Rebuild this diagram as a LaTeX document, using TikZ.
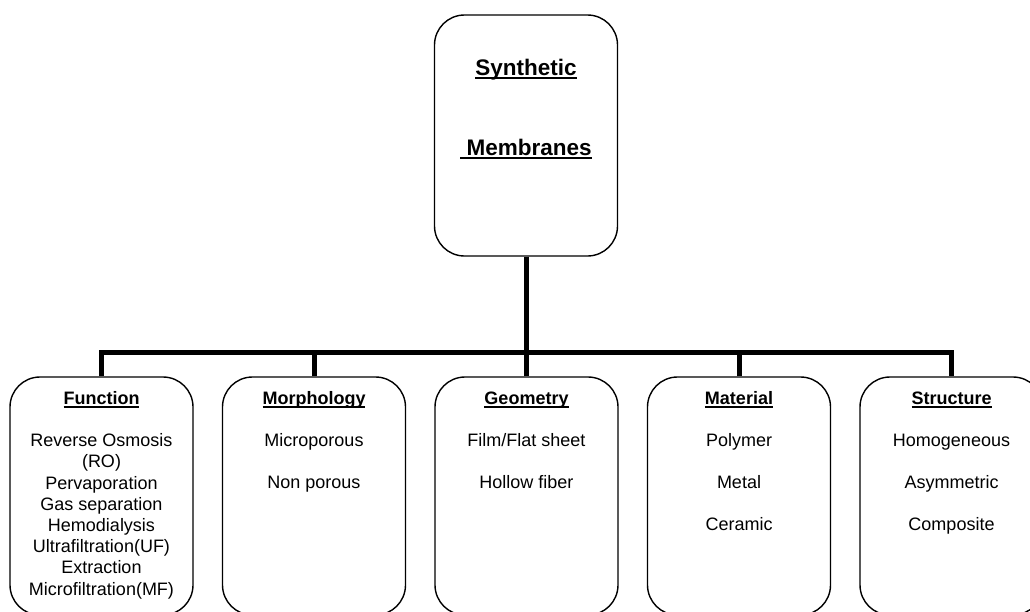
\documentclass[tikz,border=0pt]{standalone}
\usepackage{fontspec}
\setmainfont{Liberation Sans}
\newsavebox\ulsave
\newcommand\ulbox[1]{\sbox\ulsave{#1}\rlap{\rule[-0.18em]{\wd\ulsave}{0.08em}}\usebox\ulsave}
\begin{document}
\begin{tikzpicture}[x=1pt,y=-1pt,
  box/.style={draw, line width=1.4pt, rounded corners=30pt, minimum width=183pt, inner sep=0pt},
  conn/.style={line width=5pt},
  title/.style={font=\fontsize{22.5}{26}\selectfont\bfseries, inner sep=0pt},
  head/.style={font=\fontsize{18}{21}\selectfont\bfseries, inner sep=0pt, anchor=base},
  body/.style={font=\fontsize{18}{21.2}\selectfont, inner sep=0pt, anchor=north, align=center},
  bodywide/.style={font=\fontsize{18}{42}\selectfont, inner sep=0pt, anchor=north, align=center}]
\clip (0,0) rectangle (1030,611);
\fill[white] (0,0) rectangle (1030,611);
% root
\node[box, minimum height=241pt] (top) at (526,135.5) {};
\node[title, anchor=base] (t1) at (526,75) {\ulbox{Synthetic}};
\node[title, anchor=base] (t2) at (526,155) {\ulbox{\ Membranes}};
% children
\foreach \i/\x in {1/101.5,2/314,3/526.5,4/739,5/951.5}
  \node[box, minimum height=238pt] (b\i) at (\x,496) {};
\node[head] (h1) at (b1 |- 0,404.5) {\ulbox{Function}};
\node[head] (h2) at (b2 |- 0,404.5) {\ulbox{Morphology}};
\node[head] (h3) at (b3 |- 0,404.5) {\ulbox{Geometry}};
\node[head] (h4) at (b4 |- 0,404.5) {\ulbox{Material}};
\node[head] (h5) at (b5 |- 0,404.5) {\ulbox{Structure}};
\node[body] (l1) at (b1 |- 0,433.5) {Reverse Osmosis\\(RO)\\Pervaporation\\Gas separation\\Hemodialysis\\Ultrafiltration(UF)\\Extraction\\Microfiltration(MF)};
\node[bodywide] (l2) at (b2 |- 0,433.5) {Microporous\\Non porous};
\node[bodywide] (l3) at (b3 |- 0,433.5) {Film/Flat sheet\\Hollow fiber};
\node[bodywide] (l4) at (b4 |- 0,433.5) {Polymer\\Metal\\Ceramic};
\node[bodywide] (l5) at (b5 |- 0,433.5) {Homogeneous\\Asymmetric\\Composite};
% connectors
\coordinate (bus) at (526,352);
\draw[conn] (top.south) -- (bus);
\draw[conn] (b1.north) -- (b1.north |- bus) -- (b5.north |- bus) -- (b5.north);
\foreach \i in {2,3,4}
  \draw[conn] (b\i.north) -- (b\i.north |- bus);
\end{tikzpicture}
\end{document}
